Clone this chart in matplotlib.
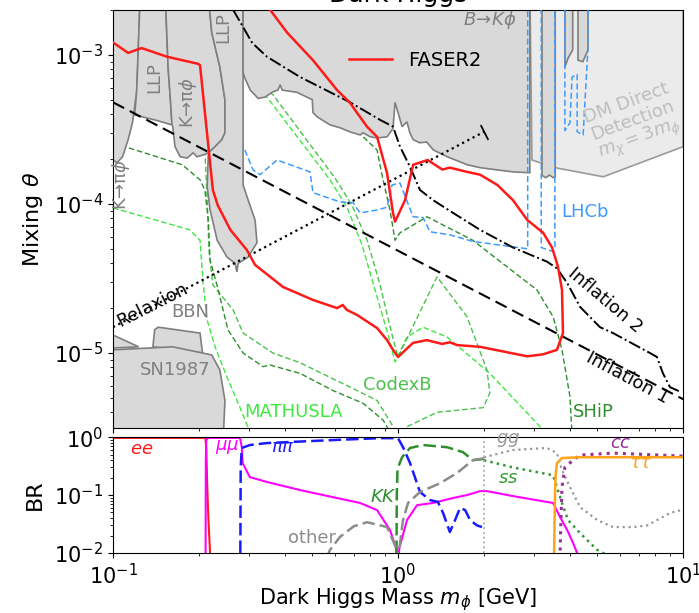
import matplotlib.pyplot as plt

TOP = 3e-3
BOT = 2e-6

# ---------------- top panel: mixing angle vs mass ----------------
faser2_m = [0.1, 0.113, 0.126, 0.155, 0.199, 0.202, 0.224, 0.233, 0.258, 0.295, 0.315, 0.395,
            0.503, 0.611, 0.64, 0.66, 0.718, 0.844, 0.915, 0.96, 1.0, 1.129, 1.264, 1.427,
            1.52, 1.61, 1.94, 2.84, 3.23, 3.61, 3.79, 3.76, 3.64, 3.47, 3.23, 2.84, 2.53,
            2.23, 1.94, 1.746, 1.52, 1.43, 1.27, 1.13, 1.058, 0.976, 0.96, 0.915, 0.844,
            0.779, 0.718, 0.679, 0.611, 0.503, 0.408, 0.356]
faser2_theta = [1.21e-3, 1.03e-3, 1.11e-3, 9.7e-4, 8.7e-4, 8.5e-4, 1.24e-4, 9.8e-5, 6.7e-5,
                4.9e-5, 3.9e-5, 2.77e-5, 2.27e-5, 2.0e-5, 2.1e-5, 1.95e-5, 1.8e-5, 1.47e-5,
                1.22e-5, 1.05e-5, 9.4e-6, 1.17e-5, 1.22e-5, 1.15e-5, 1.18e-5, 1.13e-5, 1.1e-5,
                9.5e-6, 9.8e-6, 1.05e-5, 1.36e-5, 2.65e-5, 3.8e-5, 5.1e-5, 6.4e-5, 7.8e-5,
                1.06e-4, 1.34e-4, 1.57e-4, 1.64e-4, 1.75e-4, 1.7e-4, 1.97e-4, 1.83e-4, 1.06e-4,
                7.6e-5, 8.7e-5, 1.61e-4, 2.82e-4, 3.29e-4, 4.08e-4, 4.76e-4, 5.8e-4, 9.2e-4,
                1.41e-3, 2.0e-3]

infl1_m = [0.1, 10.0]
infl1_theta = [4.8e-4, 4.9e-6]
infl2_m = [0.264, 0.308, 0.347, 0.453, 0.679, 0.865, 0.96, 1.016, 1.102, 1.194, 1.327, 1.56,
           1.94, 2.53, 3.33, 3.61, 3.92, 4.35, 5.11, 5.68, 7.65, 8.1, 8.5, 9.0, 9.77]
infl2_theta = [2.0e-3, 1.2e-3, 9.7e-4, 7.1e-4, 4.8e-4, 3.66e-4, 3.3e-4, 2.42e-4, 1.77e-4,
               1.24e-4, 1.06e-4, 8.7e-5, 6.7e-5, 5.1e-5, 4.1e-5, 3.7e-5, 2.95e-5, 2.04e-5,
               1.49e-5, 1.36e-5, 1.0e-5, 9.4e-6, 7.3e-6, 5.9e-6, 5.5e-6]
relax_m = [0.1, 2.0]
relax_theta = [1.49e-5, 3.04e-4]

lhcb1_m = [0.29, 0.31, 0.328, 0.376, 0.491, 0.503, 0.626, 0.695, 0.736, 0.844, 0.915, 0.953,
           1.016, 1.129, 1.224, 1.295, 1.52, 1.83, 2.85, 2.85]
lhcb1_theta = [2.3e-4, 1.69e-4, 1.57e-4, 1.97e-4, 1.64e-4, 1.19e-4, 1.03e-4, 1.02e-4, 8.7e-5,
               9.1e-5, 9.5e-5, 1.34e-4, 1.38e-4, 8.2e-5, 8.1e-5, 6.5e-5, 6.2e-5, 5.6e-5,
               5.0e-5, TOP]
lhcb2_m = [3.18, 3.18, 3.5, 3.55, 3.55]
lhcb2_theta = [TOP, 5.1e-5, 4.8e-5, 5.0e-5, TOP]
lhcb3_m = [3.85, 3.85, 4.01, 4.08, 4.25, 4.25, 4.46, 4.64, 4.64]
lhcb3_theta = [TOP, 3.1e-4, 3.5e-4, 7.1e-4, 7.4e-4, 3.05e-4, 2.9e-4, 1.13e-3, TOP]

mathusla_lo_m = [0.1, 0.186, 0.202, 0.207, 0.214, 0.228, 0.251, 0.279, 0.302]
mathusla_lo_theta = [9.4e-5, 6.7e-5, 5.7e-5, 2.95e-5, 1.66e-5, 1.1e-5, 6.9e-6, 4.3e-6, 2.95e-6]
mathusla_hi_m = [0.315, 0.347, 0.577, 0.662, 0.748, 0.83, 0.923, 0.976, 1.075, 1.224, 1.486,
                 2.10, 3.15, 3.36]
mathusla_hi_theta = [6.8e-4, 5.2e-4, 1.45e-4, 9.5e-5, 5.3e-5, 2.65e-5, 1.32e-5, 8.7e-6,
                     1.28e-5, 1.49e-5, 1.28e-5, 7.3e-6, 3.2e-6, 2.6e-6]

codexb_lo_m = [0.21, 0.214, 0.217, 0.224, 0.264, 0.286, 0.364, 0.453, 0.679, 0.844, 0.953, 1.0]
codexb_lo_theta = [2.3e-4, 1.06e-4, 4.9e-5, 2.86e-5, 1.94e-5, 1.36e-5, 1.0e-5, 8.6e-6,
                   5.9e-6, 4.8e-6, 3.3e-6, 2.6e-6]
codexb_hi_m = [0.334, 0.364, 0.601, 0.689, 0.779, 0.865, 0.953, 1.0, 1.37, 1.746, 2.05, 2.10,
               1.99, 1.37, 1.075, 0.976]
codexb_hi_theta = [6.0e-4, 5.4e-4, 1.49e-4, 9.8e-5, 5.7e-5, 2.86e-5, 1.32e-5, 9.4e-6, 3.24e-5,
                   1.75e-5, 7.7e-6, 5.4e-6, 4.3e-6, 4.0e-6, 3.2e-6, 2.6e-6]

ship_lo_m = [0.1, 0.11, 0.175, 0.202, 0.21, 0.216, 0.219, 0.234, 0.253, 0.286, 0.336, 0.356,
             0.453, 0.591, 0.754, 0.886, 0.953]
ship_lo_theta = [2.57e-4, 2.42e-4, 1.83e-4, 1.45e-4, 1.24e-4, 7.8e-5, 4.2e-5, 2.65e-5, 1.43e-5,
                 1.0e-5, 8.1e-6, 8.3e-6, 7.3e-6, 5.6e-6, 4.6e-6, 3.55e-6, 2.8e-6]
ship_hi_m = [0.577, 0.754, 0.844, 0.886, 0.937, 0.976, 1.016, 1.264, 1.83, 3.07, 3.5, 3.76,
             4.01, 4.08]
ship_hi_theta = [5.0e-4, 2.82e-4, 2.3e-4, 1.45e-4, 9.1e-5, 5.7e-5, 6.4e-5, 8.2e-5, 5.7e-5,
                 2.65e-5, 1.75e-5, 1.05e-5, 5.1e-6, 2.8e-6]

# excluded regions
kpi1_m = [0.1, 0.124, 0.124, 0.122, 0.121, 0.117, 0.113, 0.108, 0.103, 0.1]
kpi1_theta = [TOP, TOP, 2e-3, 8.3e-4, 5.6e-4, 3.5e-4, 2.7e-4, 2.07e-4, 1.88e-4, 2.0e-4]
llp1_m = [0.124, 0.152, 0.156, 0.159, 0.161, 0.140, 0.119, 0.121, 0.122, 0.124]
llp1_theta = [TOP, TOP, 8.3e-4, 5.0e-4, 3.39e-4, 3.66e-4, 3.95e-4, 5.6e-4, 8.3e-4, 2e-3]
kpi2_m = [0.152, 0.156, 0.159, 0.161, 0.162, 0.165, 0.172, 0.182, 0.191, 0.197, 0.207, 0.216,
          0.228, 0.241, 0.247, 0.247, 0.237, 0.222, 0.214]
kpi2_theta = [TOP, 8.3e-4, 5.0e-4, 3.39e-4, 3.3e-4, 2.42e-4, 2.07e-4, 2.03e-4, 2.2e-4, 2.07e-4,
              2.13e-4, 2.2e-4, 2.42e-4, 2.7e-4, 3.0e-4, 5.0e-4, 8.3e-4, 1.41e-3, TOP]
llp2_m = [0.214, 0.222, 0.237, 0.247, 0.247, 0.241, 0.228, 0.216, 0.214, 0.219, 0.232, 0.251,
          0.268, 0.272, 0.275, 0.298, 0.320, 0.315, 0.298, 0.286, 0.286]
llp2_theta = [TOP, 1.41e-3, 8.3e-4, 5.0e-4, 3.0e-4, 2.7e-4, 2.42e-4, 2.2e-4, 1.3e-4, 9.1e-5,
              5.7e-5, 4.4e-5, 4.0e-5, 3.5e-5, 4.0e-5, 4.4e-5, 5.5e-5, 7.8e-5, 1.06e-4,
              1.34e-4, TOP]
bkphi_m = [0.286, 0.286, 0.290, 0.303, 0.323, 0.341, 0.364, 0.379, 0.386, 0.392, 0.442, 0.50,
           0.503, 0.520, 0.541, 0.577, 0.626, 0.679, 0.736, 0.754, 0.798, 0.844, 0.915, 0.960,
           0.976, 1.0, 1.033, 1.075, 1.10, 1.13, 1.19, 1.26, 1.33, 1.49, 1.75, 1.94, 2.23,
           2.53, 2.86, 2.9, 2.9]
bkphi_theta = [TOP, 7.6e-4, 7.0e-4, 5.8e-4, 5.1e-4, 5.2e-4, 5.65e-4, 5.8e-4, 6.3e-4, 5.8e-4,
               5.6e-4, 5.0e-4, 4.1e-4, 3.84e-4, 3.66e-4, 3.39e-4, 3.24e-4, 3.04e-4, 2.9e-4,
               3.0e-4, 2.82e-4, 2.77e-4, 2.82e-4, 3.2e-4, 4.8e-4, 4.1e-4, 3.3e-4, 3.55e-4,
               3.0e-4, 2.7e-4, 2.57e-4, 2.6e-4, 2.3e-4, 2.07e-4, 1.83e-4, 1.75e-4, 1.69e-4,
               1.64e-4, 1.62e-4, 1.62e-4, TOP]
dm_m = [2.9, 2.95, 3.55, 5.25, 10.0, 10.0]
dm_theta = [TOP, 1.97e-4, 1.75e-4, 1.52e-4, 2.42e-4, TOP]
strip1_m = [3.2, 3.2, 3.3, 3.4, 3.5, 3.56, 3.56]
strip1_theta = [TOP, 1.55e-4, 1.5e-4, 1.56e-4, 1.5e-4, 1.52e-4, TOP]
strip2_m = [3.85, 3.85, 3.95, 4.1, 4.1]
strip2_theta = [TOP, 8.3e-4, 9.5e-4, 1.08e-3, TOP]
strip3_m = [4.28, 4.28, 4.45, 4.64, 4.64]
strip3_theta = [TOP, 9.2e-4, 9.0e-4, 1.08e-3, TOP]
bbn_m = [0.138, 0.140, 0.144, 0.202, 0.206]
bbn_theta = [1.1e-5, 1.43e-5, 1.49e-5, 1.36e-5, 1.0e-5]
bbn2_m = [0.1, 0.123, 0.1]
bbn2_theta = [1.32e-5, 1.1e-5, 1.08e-5]
sn_m = [0.1, 0.162, 0.222, 0.237, 0.247, 0.242, 0.1]
sn_theta = [1.05e-5, 1.1e-5, 9.7e-6, 7.7e-6, 4.8e-6, BOT, BOT]

# ---------------- bottom panel: branching ratios ----------------
ee_m = [0.1, 0.211, 0.2125, 0.214, 0.216, 0.219, 0.222]
ee_br = [0.97, 0.97, 0.6, 0.15, 0.04, 0.01, 0.006]
mumu_m = [0.2112, 0.2116, 0.2125, 0.216, 0.279, 0.283, 0.285, 0.302, 0.347, 0.453, 0.591,
          0.736, 0.844, 0.937, 0.985, 0.997, 1.01, 1.075, 1.166, 1.327, 1.56, 1.746, 1.94,
          2.05, 2.53, 3.5, 3.70, 3.92, 4.11, 4.25, 4.4]
mumu_br = [0.005, 0.4, 0.9, 0.97, 0.97, 0.67, 0.356, 0.204, 0.168, 0.122, 0.092, 0.073, 0.055,
           0.025, 0.012, 0.005, 0.012, 0.037, 0.067, 0.073, 0.089, 0.1, 0.117, 0.117, 0.096,
           0.073, 0.042, 0.025, 0.015, 0.01, 0.007]
pipi_m = [0.2795, 0.2805, 0.283, 0.302, 0.347, 0.591, 0.865, 1.0, 1.041, 1.102, 1.194, 1.295,
          1.38, 1.439, 1.52, 1.585, 1.65, 1.72, 1.79, 1.89, 1.97]
pipi_br = [0.005, 0.3, 0.65, 0.73, 0.79, 0.89, 0.96, 0.96, 0.67, 0.356, 0.113, 0.082, 0.076,
           0.049, 0.023, 0.037, 0.06, 0.055, 0.037, 0.030, 0.028]
kk_m = [0.987, 0.99, 0.995, 1.0, 1.033, 1.102, 1.224, 1.486, 1.69, 1.83, 2.0]
kk_br = [0.005, 0.1, 0.25, 0.3, 0.45, 0.65, 0.73, 0.67, 0.55, 0.40, 0.42]
other_m = [0.56, 0.577, 0.626, 0.70, 0.779, 0.915, 0.992, 1.0, 1.041, 1.084, 1.194, 1.404,
           1.61, 1.83, 2.0]
other_br = [0.008, 0.0113, 0.019, 0.029, 0.034, 0.028, 0.0113, 0.008, 0.037, 0.073, 0.113,
            0.16, 0.24, 0.40, 0.43]
gg_m = [2.0, 2.53, 3.33, 3.61, 3.76, 4.01, 4.35, 5.0, 5.68, 6.68, 7.5, 9.0, 10.0]
gg_br = [0.45, 0.60, 0.65, 0.53, 0.27, 0.137, 0.062, 0.037, 0.028, 0.028, 0.030, 0.049, 0.056]
ss_m = [2.0, 2.53, 3.5, 3.76, 3.95, 4.35, 5.0, 5.25, 5.5]
ss_br = [0.40, 0.30, 0.22, 0.073, 0.037, 0.022, 0.0113, 0.01, 0.008]
cc_m = [3.70, 3.72, 3.76, 3.85, 4.11, 4.35, 5.68, 10.0]
cc_br = [0.008, 0.025, 0.137, 0.30, 0.40, 0.49, 0.53, 0.47]
tautau_m = [3.52, 3.54, 3.56, 3.58, 3.61, 3.76, 4.35, 10.0]
tautau_br = [0.005, 0.03, 0.15, 0.25, 0.356, 0.435, 0.45, 0.45]

GREY = '#d9d9d9'
EDGE = '#7f7f7f'
TXT = '#808080'
C_MATH = '#3ee83e'
C_CODEX = '#4cc24c'
C_SHIP = '#2f8f2f'
C_LHCB = '#3d9bff'

fig = plt.figure(figsize=(6.99, 6.13), dpi=100)
ax = fig.add_axes([0.1617, 0.3018, 0.8155, 0.682])
axb = fig.add_axes([0.1617, 0.0979, 0.8155, 0.189], sharex=ax)

# sensitivity curves (below the shaded regions)
gdash = (0, (4, 2))
ax.plot(mathusla_lo_m, mathusla_lo_theta, color=C_MATH, ls=gdash, lw=1.0, zorder=1)
ax.plot(mathusla_hi_m, mathusla_hi_theta, color=C_MATH, ls=gdash, lw=1.0, zorder=1)
ax.plot(codexb_lo_m, codexb_lo_theta, color=C_CODEX, ls=gdash, lw=1.0, zorder=1)
ax.plot(codexb_hi_m, codexb_hi_theta, color=C_CODEX, ls=gdash, lw=1.0, zorder=1)
ax.plot(ship_lo_m, ship_lo_theta, color=C_SHIP, ls=gdash, lw=1.0, zorder=1)
ax.plot(ship_hi_m, ship_hi_theta, color=C_SHIP, ls=gdash, lw=1.0, zorder=1)

# excluded regions
ax.fill(dm_m, dm_theta, facecolor='#ebebeb', edgecolor='#9a9a9a', lw=1.2, zorder=1.5)
for mm, tt in [(kpi1_m, kpi1_theta), (llp1_m, llp1_theta), (kpi2_m, kpi2_theta),
               (llp2_m, llp2_theta), (bkphi_m, bkphi_theta), (strip1_m, strip1_theta),
               (strip2_m, strip2_theta), (strip3_m, strip3_theta), (bbn2_m, bbn2_theta),
               (bbn_m, bbn_theta), (sn_m, sn_theta)]:
    ax.fill(mm, tt, facecolor=GREY, edgecolor=EDGE, lw=1.2, zorder=2)

# LHCb projection
for mm, tt in [(lhcb1_m, lhcb1_theta), (lhcb2_m, lhcb2_theta), (lhcb3_m, lhcb3_theta)]:
    ax.plot(mm, tt, color=C_LHCB, ls=gdash, lw=1.1, zorder=3)

# theory lines
ax.plot(infl1_m, infl1_theta, color='k', ls=(0, (6, 3)), lw=1.5, zorder=4)
ax.plot(infl2_m, infl2_theta, color='k', ls='-.', lw=1.4, zorder=4)
ax.plot(relax_m, relax_theta, color='k', ls=':', lw=1.6, zorder=4)
ax.plot(relax_m[-1:], relax_theta[-1:], color='k', marker=(2, 0, 27), ms=12, mew=1.3,
        ls='none', zorder=4)

ax.plot(faser2_m, faser2_theta, color='#ff1a1a', lw=1.8, zorder=5, label='FASER2')
ax.legend(loc='center', bbox_to_anchor=(0.53, 0.88), frameon=False, fontsize=14,
          handlelength=2.2)

# labels
ax.text(0.140, 7.0e-4, 'LLP', rotation=90, color=TXT, fontsize=13, ha='center', va='center', zorder=6)
ax.text(0.243, 1.52e-3, 'LLP', rotation=90, color=TXT, fontsize=13, ha='center', va='center', zorder=6)
ax.text(0.183, 4.8e-4, r'K→π$\phi$', rotation=90, color=TXT, fontsize=13, ha='center', va='center', zorder=6)
ax.text(0.107, 1.34e-4, r'K→π$\phi$', rotation=90, color=TXT, fontsize=13, ha='center', va='center', zorder=6)
ax.text(2.10, 1.72e-3, r'$B\!\to\! K\phi$', color=TXT, fontsize=13, ha='center', va='center', zorder=6)
ax.text(0.186, 1.88e-5, 'BBN', color=TXT, fontsize=13, ha='center', va='center', zorder=6)
ax.text(0.165, 7.7e-6, 'SN1987', color=TXT, fontsize=13, ha='center', va='center', zorder=6)
ax.text(6.68, 3.5e-4, 'DM Direct\nDetection\n' + r'$m_\chi = 3m_\phi$', rotation=20,
        color='#bdbdbd', fontsize=13, ha='center', va='center', linespacing=1.0, zorder=6)
ax.text(4.53, 8.8e-5, 'LHCb', color=C_LHCB, fontsize=13, ha='center', va='center', zorder=6)
ax.text(0.99, 6.1e-6, 'CodexB', color=C_CODEX, fontsize=13, ha='center', va='center', zorder=6)
ax.text(0.428, 4.0e-6, 'MATHUSLA', color=C_MATH, fontsize=13, ha='center', va='center', zorder=6)
ax.text(4.83, 4.0e-6, 'SHiP', color=C_SHIP, fontsize=13, ha='center', va='center', zorder=6)
ax.text(0.137, 2.1e-5, 'Relaxion', rotation=27, color='k', fontsize=13, ha='center', va='center', zorder=6)
ax.text(5.33, 2.27e-5, 'Inflation 2', rotation=-40, color='k', fontsize=13, ha='center', va='center', zorder=6)
ax.text(6.36, 6.8e-6, 'Inflation 1', rotation=-28, color='k', fontsize=13, ha='center', va='center', zorder=6)

ax.set_xscale('log')
ax.set_yscale('log')
ax.set_xlim(0.1, 10)
ax.set_ylim(3.14e-6, 2.0e-3)
ax.set_ylabel(r'Mixing $\theta$', fontsize=16)
ax.yaxis.set_label_coords(-0.12, 0.5)
ax.set_title('Dark Higgs', fontsize=18)
ax.tick_params(labelbottom=False, labelsize=15)

# branching ratios
axb.plot(ee_m, ee_br, color='#ff1a1a', lw=1.5)
axb.plot(mumu_m, mumu_br, color='#ff00ff', lw=1.5)
axb.plot(pipi_m, pipi_br, color='#1a1aff', ls=(0, (5, 2)), lw=1.8)
axb.plot(kk_m, kk_br, color=C_SHIP, ls=(0, (5, 2)), lw=1.8)
axb.plot(other_m, other_br, color='#8c8c8c', ls=(0, (5, 2)), lw=1.8)
axb.plot(gg_m, gg_br, color='#999999', ls=':', lw=1.6)
axb.plot(ss_m, ss_br, color='#339933', ls=':', lw=1.8)
axb.plot(cc_m, cc_br, color='#992e99', ls=':', lw=2.2)
axb.plot(tautau_m, tautau_br, color='#ffa31a', lw=1.8)
axb.axvline(2.0, color='#aaaaaa', ls=':', lw=1.3)

axb.text(0.126, 0.62, '$ee$', color='#ff1a1a', fontsize=13, ha='center', va='center')
axb.text(0.251, 0.67, r'$\mu\mu$', color='#ff00ff', fontsize=13, ha='center', va='center')
axb.text(0.395, 0.67, r'$\pi\pi$', color='#1a1aff', fontsize=13, ha='center', va='center')
axb.text(0.886, 0.092, '$KK$', color=C_SHIP, fontsize=13, ha='center', va='center')
axb.text(0.50, 0.018, 'other', color='#8c8c8c', fontsize=13, ha='center', va='center')
axb.text(2.43, 0.89, '$gg$', color='#999999', fontsize=13, ha='center', va='center')
axb.text(2.43, 0.196, '$ss$', color='#339933', fontsize=13, ha='center', va='center')
axb.text(6.05, 0.79, '$cc$', color='#992e99', fontsize=13, ha='center', va='center')
axb.text(7.1, 0.356, r'$\tau\tau$', color='#ffa31a', fontsize=13, ha='center', va='center')

axb.set_yscale('log')
axb.set_ylim(0.01, 1.0)
axb.set_xlim(0.1, 10)
axb.set_ylabel('BR', fontsize=16)
axb.yaxis.set_label_coords(-0.12, 0.5)
axb.set_xlabel(r'Dark Higgs Mass $m_\phi$ [GeV]', fontsize=15)
axb.xaxis.set_label_coords(0.5, -0.29)
axb.tick_params(labelsize=15)

fig.savefig('out.png', dpi=100)
